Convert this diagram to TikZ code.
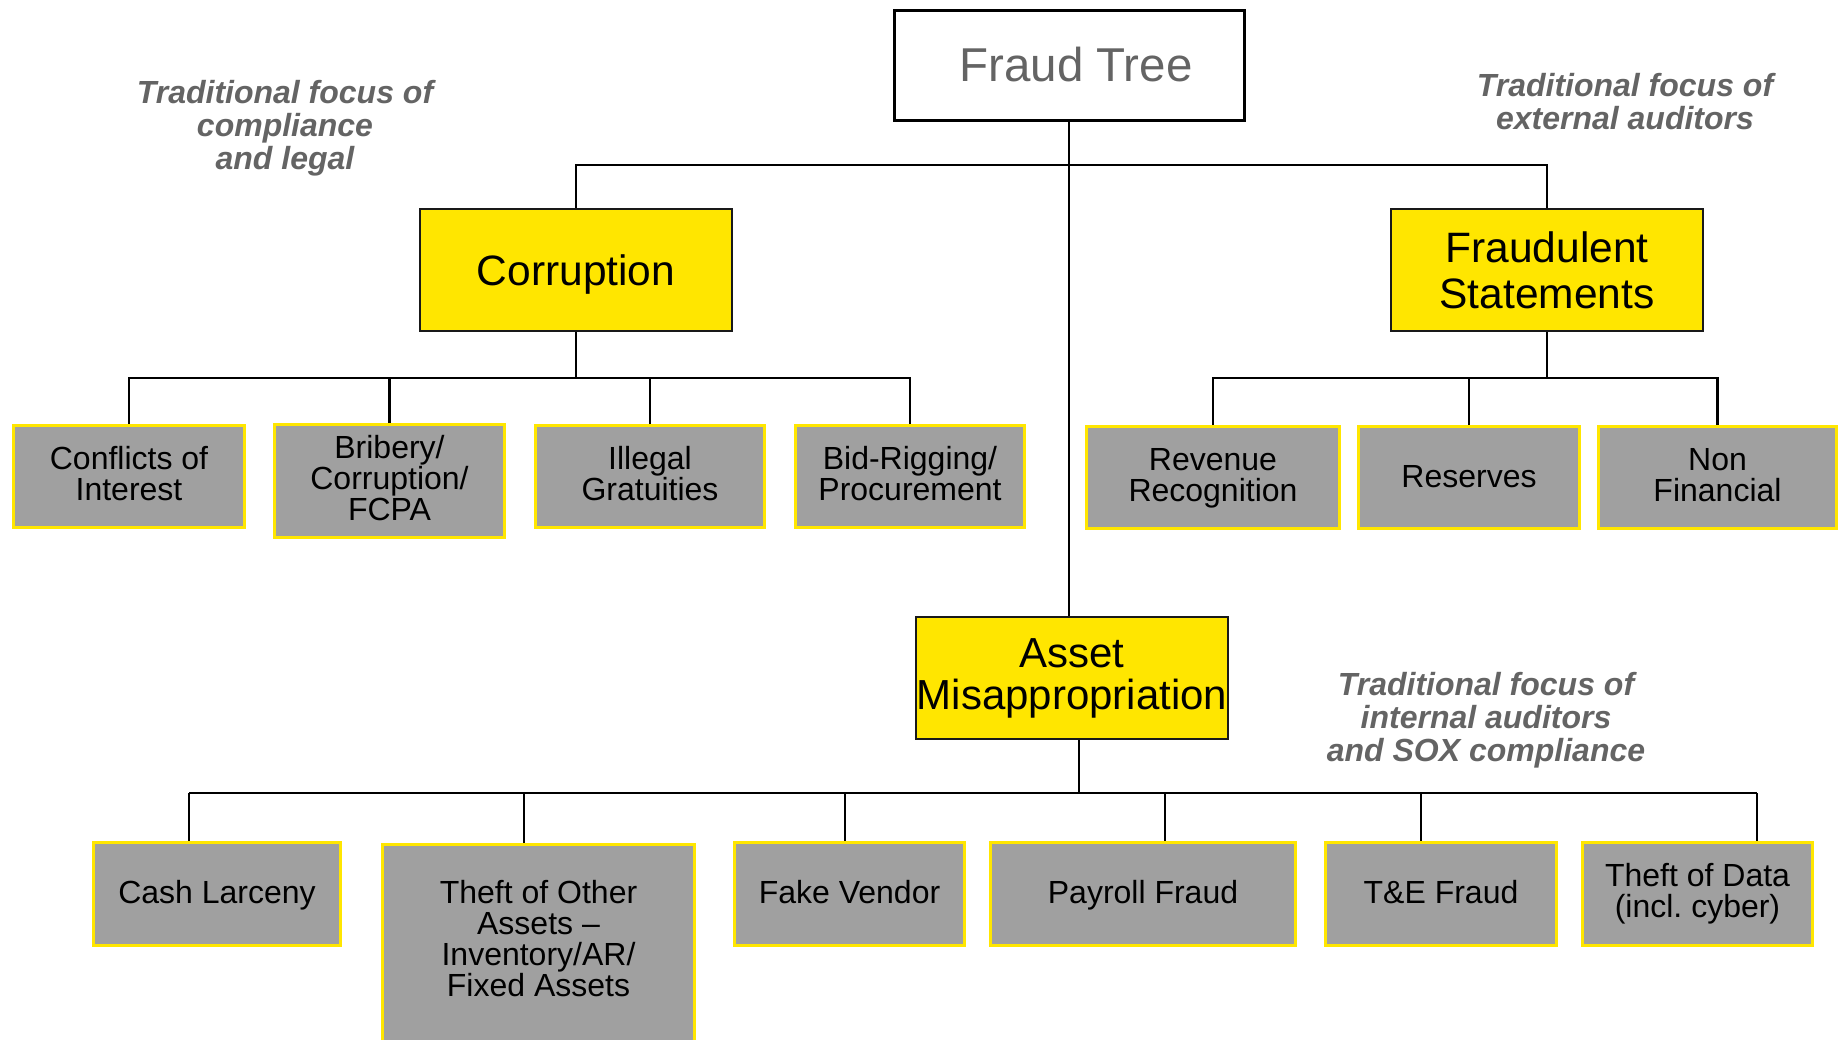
\documentclass[tikz,border=0pt]{standalone}
\usepackage{fontspec}
\setmainfont{Liberation Sans}
\definecolor{boxyellow}{RGB}{255,230,0}
\definecolor{boxgray}{RGB}{160,160,160}
\definecolor{notegray}{RGB}{100,100,100}
% struts that give every leaf label the same first-line height and last-line depth
\newcommand\topstrut{\rule{0pt}{23.4pt}}
\newcommand\botstrut{\rule[-6.8pt]{0pt}{6.8pt}}
\begin{document}
\begin{tikzpicture}[x=1pt,y=-1pt,
  root/.style={draw=black, line width=3pt, fill=white, text=notegray,
    font=\fontsize{47.5}{50}\selectfont, inner sep=0pt,
    minimum width=350pt, minimum height=110pt},
  branch/.style={draw=black!90, line width=2.5pt, fill=boxyellow,
    font=\fontsize{42.5}{46}\selectfont, align=center, inner sep=0pt,
    minimum width=312pt, minimum height=122pt},
  leafbox/.style={draw=boxyellow, line width=3pt, fill=boxgray, inner sep=0pt},
  leaf/.style={leafbox, font=\fontsize{32}{31}\selectfont, align=center},
  single/.style={text height=23.4pt, text depth=3.5pt},
  leaftext/.style={font=\fontsize{32}{31}\selectfont, align=center, inner sep=0pt},
  note/.style={text=notegray, font=\fontsize{32}{33}\selectfont\bfseries\itshape,
    align=center, inner sep=0pt},
  link/.style={line width=2.2pt, black}
]
\useasboundingbox (0,0) rectangle (1839,1039);

% top of the tree
\node[root] (root) at (1069,65) {\hspace*{14pt}Fraud Tree};
\node[branch, text height=30pt, text depth=0pt] (corr) at (576,270) {Corruption};
\node[branch] (fs) at (1547,270) {Fraudulent\\Statements};
\node[branch, font=\fontsize{42}{42}\selectfont] (asset) at (1072,678) {Asset\\Misappropriation};

% corruption schemes
\node[leaf, minimum width=231pt, minimum height=102pt] (coi) at (129,476.5) {\topstrut Conflicts of\\Interest\botstrut};
\node[leaf, minimum width=230pt, minimum height=113pt] (bri) at (389.5,481) {\topstrut Bribery/\\Corruption/\\FCPA\botstrut};
\node[leaf, minimum width=229pt, minimum height=102pt] (ill) at (650,476.5) {\topstrut Illegal\\Gratuities\botstrut};
\node[leaf, minimum width=229pt, minimum height=102pt] (bid) at (910,476.5) {\topstrut Bid-Rigging/\\Procurement\botstrut};

% financial statement schemes
\node[leaf, minimum width=253pt, minimum height=102pt] (rev) at (1213,477.5) {\topstrut Revenue\\Recognition\botstrut};
\node[leaf, single, minimum width=221pt, minimum height=102pt] (res) at (1469,477.5) {Reserves};
\node[leaf, minimum width=238pt, minimum height=102pt] (nonfin) at (1717.5,477.5) {\topstrut Non\\Financial\botstrut};

% asset misappropriation schemes
\node[leaf, single, minimum width=247pt, minimum height=103pt] (cash) at (217,893.5) {Cash Larceny};
\node[leafbox, minimum width=312pt, minimum height=210pt, anchor=north] (tho) at (538.5,842.5) {};
\node[leaftext] (thotext) at (538.5,939) {Theft of Other\\Assets –\\Inventory/AR/\\Fixed Assets};
\node[leaf, single, minimum width=230pt, minimum height=103pt] (fake) at (849.5,893.5) {Fake Vendor};
\node[leaf, single, minimum width=305pt, minimum height=103pt] (pay) at (1143,893.5) {Payroll Fraud};
\node[leaf, single, minimum width=231pt, minimum height=103pt] (te) at (1441,893.5) {T\&E Fraud};
\node[leaf, minimum width=230pt, minimum height=103pt] (data) at (1697.5,893.5) {\topstrut Theft of Data\\(incl.\ cyber)\botstrut};

% notes
\node[note] (n1) at (285,128) {Traditional focus of\\compliance\\and legal};
\node[note] (n2) at (1625,101.5) {Traditional focus of\\external auditors};
\node[note] (n3) at (1486,720) {Traditional focus of\\internal auditors\\and SOX compliance};

% bus lines
\coordinate (topbus) at (1069,165);
\coordinate (cbus) at (576,378);
\coordinate (fbus) at (1547,378);
\coordinate (abus) at (1079,793);
\coordinate (d1) at (189,793);
\coordinate (d2) at (524,793);
\coordinate (d3) at (845,793);
\coordinate (d4) at (1165,793);
\coordinate (d5) at (1421,793);
\coordinate (d6) at (1757,793);

% root to its three branches
\draw[link] (root.south) -- (root.south |- asset.north);
\draw[link] (corr.north) -- (corr.north |- topbus) -- (fs.north |- topbus) -- (fs.north);

% corruption branch
\draw[link] (corr.south) -- (cbus);
\draw[link] (coi.north) |- (cbus) -| (bid.north);
\draw[link] (bri.north) -- (bri.north |- cbus);
\draw[link] (ill.north) -- (ill.north |- cbus);

% fraudulent statements branch
\draw[link] (fs.south) -- (fbus);
\draw[link] (rev.north) |- (fbus) -| (nonfin.north);
\draw[link] (res.north) -- (res.north |- fbus);

% asset misappropriation branch
\draw[link] (asset.south -| abus) -- (abus);
\draw[link] (d1) -- (d6);
\draw[link] (d1) -- (cash.north -| d1);
\draw[link] (d2) -- (tho.north -| d2);
\draw[link] (d3) -- (fake.north -| d3);
\draw[link] (d4) -- (pay.north -| d4);
\draw[link] (d5) -- (te.north -| d5);
\draw[link] (d6) -- (data.north -| d6);
\end{tikzpicture}
\end{document}
